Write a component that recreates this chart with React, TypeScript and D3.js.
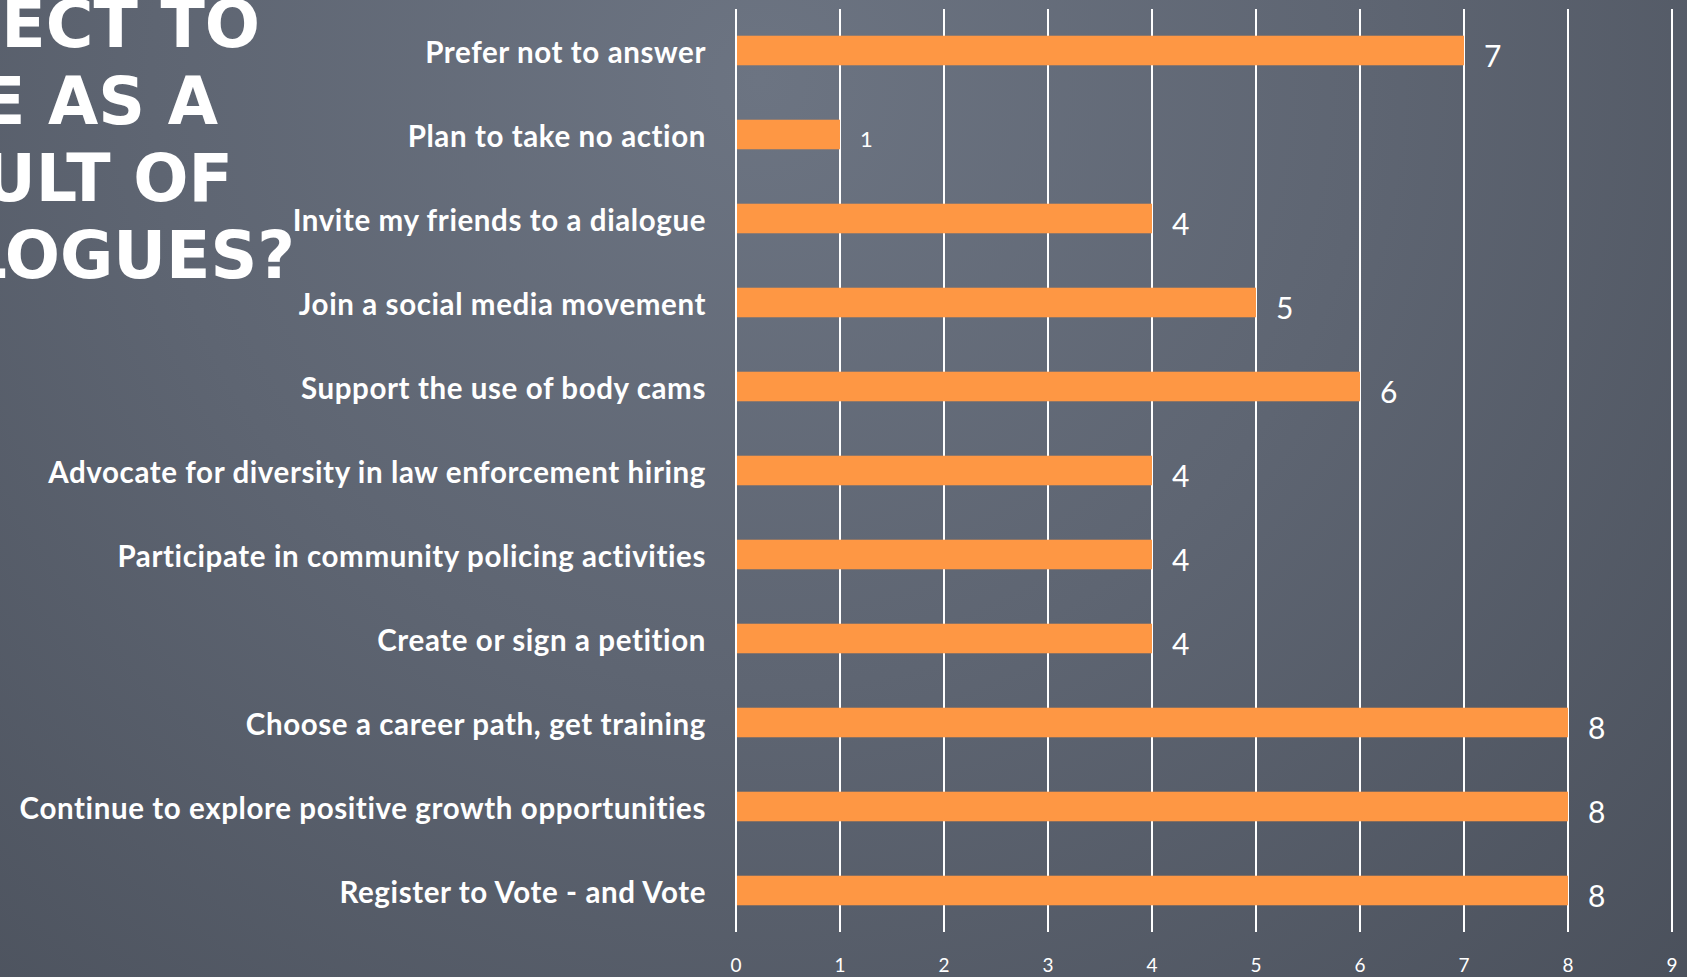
import React, { useEffect } from "react";
import * as d3 from "d3";

const categories = [
  "Prefer not to answer",
  "Plan to take no action",
  "Invite my friends to a dialogue",
  "Join a social media movement",
  "Support the use of body cams",
  "Advocate for diversity in law enforcement hiring",
  "Participate in community policing activities",
  "Create or sign a petition",
  "Choose a career path, get training",
  "Continue to explore positive growth opportunities",
  "Register to Vote - and Vote",
];
const values = [7, 1, 4, 5, 6, 4, 4, 4, 8, 8, 8];
const tickValues = [0, 1, 2, 3, 4, 5, 6, 7, 8, 9];
const titleLines = ["ECT TO", "E AS A", "ULT OF", "LOGUES?"];

const W = 1687;
const H = 977;

export default function App() {
  useEffect(() => {
    document.body.style.margin = "0";
    document.body.style.overflow = "hidden";
  }, []);

  const x = d3.scaleLinear().domain([0, 9]).range([736, 1672]);
  const y = d3.scaleBand<string>().domain(categories).range([8.5, 932.5]).padding(0);
  const bw = y.bandwidth();
  const bh = bw * 0.352;

  const titleRight = [260, 218, 233, 295];
  const labelFont = "Lato, 'Open Sans', sans-serif";

  return (
    <svg width={W} height={H} style={{ display: "block" }}>
      <defs>
        <radialGradient id="bg" gradientUnits="userSpaceOnUse" cx={760} cy={80} r={1350}>
          <stop offset="0" stopColor="#6c7482" />
          <stop offset="0.45" stopColor="#5e6572" />
          <stop offset="1" stopColor="#494f5a" />
        </radialGradient>
      </defs>
      <rect x={0} y={0} width={W} height={H} fill="url(#bg)" />

      {/* title fragments */}
      {titleLines.map((t, i) => (
        <text
          key={t}
          x={titleRight[i]}
          y={47 + i * 77}
          textAnchor="end"
          fontFamily="'DejaVu Sans', sans-serif"
          fontWeight="bold"
          fontSize={65}
          fill="#ffffff"
        >
          {t}
        </text>
      ))}

      {/* gridlines */}
      {tickValues.map((t) => (
        <line
          key={"g" + t}
          x1={x(t)}
          x2={x(t)}
          y1={9}
          y2={932}
          stroke="#ffffff"
          strokeWidth={2}
        />
      ))}

      {/* bars */}
      {categories.map((c, i) => {
        const cy = (y(c) as number) + bw / 2;
        return (
          <g key={c}>
            <rect
              x={x(0) + 1}
              y={cy - bh / 2}
              width={x(values[i]) - x(0) - 1}
              height={bh}
              fill="#fe9744"
            />
            <text
              x={x(0) - 30}
              y={cy + 12}
              textAnchor="end"
              fontFamily={labelFont}
              fontWeight="bold"
              fontSize={29.5}
              letterSpacing={0.6}
              fill="#ffffff"
            >
              {c}
            </text>
            <text
              x={x(values[i]) + 20}
              y={cy + (values[i] < 2 ? 12 : 16)}
              fontFamily={labelFont}
              fontSize={values[i] < 2 ? 22 : 30}
              fill="#ffffff"
            >
              {values[i]}
            </text>
          </g>
        );
      })}

      {/* tick labels */}
      {tickValues.map((t) => (
        <text
          key={"t" + t}
          x={x(t)}
          y={972}
          textAnchor="middle"
          fontFamily={labelFont}
          fontSize={19}
          fill="#ffffff"
        >
          {t}
        </text>
      ))}
    </svg>
  );
}
